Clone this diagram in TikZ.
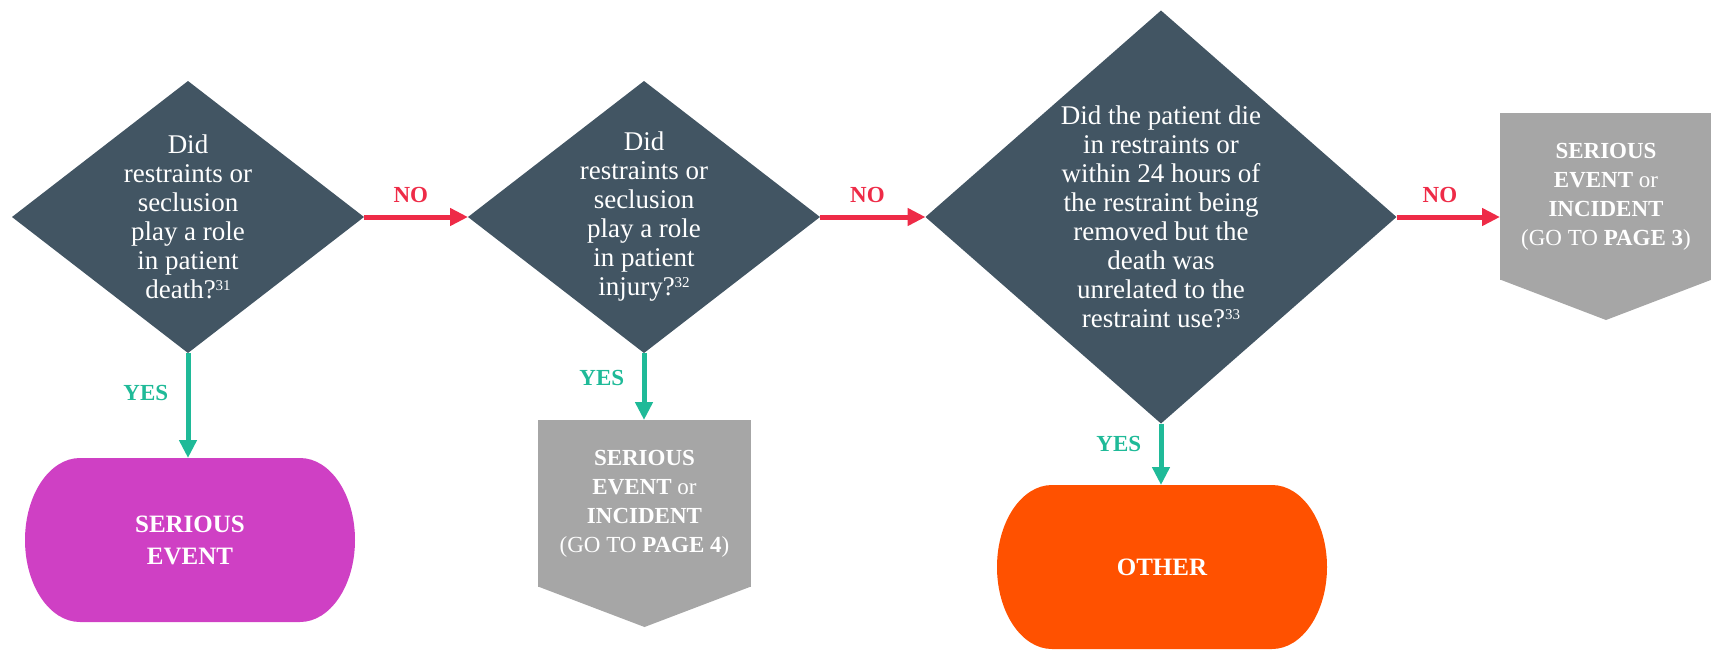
\documentclass[tikz,border=0pt]{standalone}
\usepackage{xcolor}
\usepackage{fontspec}
\setmainfont{Liberation Serif}
\usepackage{tikz}
\usetikzlibrary{positioning,arrows.meta,shapes.geometric}

\definecolor{slate}{HTML}{425563}
\definecolor{boxgray}{HTML}{A6A6A6}
\definecolor{pinkend}{HTML}{CF40C4}
\definecolor{orangeend}{HTML}{FF5100}
\definecolor{nored}{HTML}{EE2B47}
\definecolor{yesgreen}{HTML}{1FBA98}

\newcommand{\supnum}[1]{\raisebox{8pt}{\fontsize{15}{15}\selectfont #1}}

\begin{document}
\begin{tikzpicture}[x=1pt, y=-1pt,
    question/.style 2 args={diamond, fill=slate, inner sep=0pt, outer sep=0pt,
        minimum width=#1, minimum height=#2},
    qtext/.style={text=white, align=center, font=\fontsize{27}{29}\selectfont},
    pagebox/.style={fill=boxgray, minimum width=213pt, minimum height=167pt,
        inner sep=0pt, outer sep=0pt, text=white, align=center,
        font=\fontsize{23}{29}\selectfont},
    endpill/.style={minimum width=330pt, minimum height=164pt, inner sep=0pt,
        outer sep=0pt, text=white, align=center, font=\bfseries\fontsize{25}{32}\selectfont,
        path picture={\fill[#1]
            ([xshift=55pt]path picture bounding box.north west)
            -- ([xshift=-55pt]path picture bounding box.north east)
            arc[start angle=90, end angle=-90, x radius=55pt, y radius=82pt]
            -- ([xshift=55pt]path picture bounding box.south west)
            arc[start angle=270, end angle=90, x radius=55pt, y radius=82pt] -- cycle;}},
    noline/.style={draw=nored, line width=5pt, -{Triangle[length=18pt,width=17pt]}},
    yesline/.style={draw=yesgreen, line width=5pt, -{Triangle[length=18pt,width=17pt]}},
    nolabel/.style={text=nored, font=\bfseries\fontsize{23}{29}\selectfont, above=8pt},
    yeslabel/.style={text=yesgreen, font=\bfseries\fontsize{23}{29}\selectfont, left=14pt}
]

    \useasboundingbox (0,0) rectangle (1711,649);

    % Question 1: restraints and death
    \node[question={352pt}{272pt}] (q1) at (188,217) {};
    \node[qtext] (q1t) at (q1) {Did\\restraints or\\seclusion\\play a role\\in patient\\death?\supnum{31}};

    % Question 2: restraints and injury
    \node[question={352pt}{272pt}] (q2) at (644,217) {};
    \node[qtext] (q2t) at (q2) {Did\\restraints or\\seclusion\\play a role\\in patient\\injury?\supnum{32}};

    % Question 3: death unrelated to restraint
    \node[question={471pt}{413pt}] (q3) at (1161,217) {};
    \node[qtext] (q3t) at (q3) {Did the patient die\\in restraints or\\within 24 hours of\\the restraint being\\removed but the\\death was\\unrelated to the\\restraint use?\supnum{33}};

    % Outcomes
    \node[endpill=pinkend] (ev1) at (190,540) {SERIOUS\\EVENT};
    \node[endpill=orangeend] (oth) at (1162,567) {OTHER};

    \node[pagebox] (pg4) at (644.5,503.5) {\textbf{SERIOUS}\\\textbf{EVENT} or\\\textbf{INCIDENT}\\(GO TO \textbf{PAGE 4})};
    \fill[boxgray] ([yshift=0.5pt]pg4.south west) -- ([yshift=0.5pt]pg4.south east) -- ([yshift=-40pt]pg4.south) -- cycle;

    \node[pagebox, minimum width=212pt] (pg3) at (1606,196.5) {\textbf{SERIOUS}\\\textbf{EVENT} or\\\textbf{INCIDENT}\\(GO TO \textbf{PAGE 3})};
    \fill[boxgray] ([yshift=0.5pt]pg3.south west) -- ([yshift=0.5pt]pg3.south east) -- ([yshift=-40pt]pg3.south) -- cycle;

    % NO branches
    \draw[noline] (q1.east) -- node[nolabel, pos=0.45] (no1) {NO} (q2.west);
    \draw[noline] (q2.east) -- node[nolabel, pos=0.45] (no2) {NO} (q3.west);
    \draw[noline] (q3.east) -- node[nolabel, pos=0.42] (no3) {NO} (q3.east -| pg3.west);

    % YES branches
    \draw[yesline] (q1.south) -- node[yeslabel, pos=0.38] (yes1) {YES} (q1.south |- ev1.north);
    \draw[yesline] (q2.south) -- node[yeslabel, pos=0.37] (yes2) {YES} (q2.south |- pg4.north);
    \draw[yesline] (q3.south) -- node[yeslabel, pos=0.33] (yes3) {YES} (q3.south |- oth.north);

\end{tikzpicture}
\end{document}
